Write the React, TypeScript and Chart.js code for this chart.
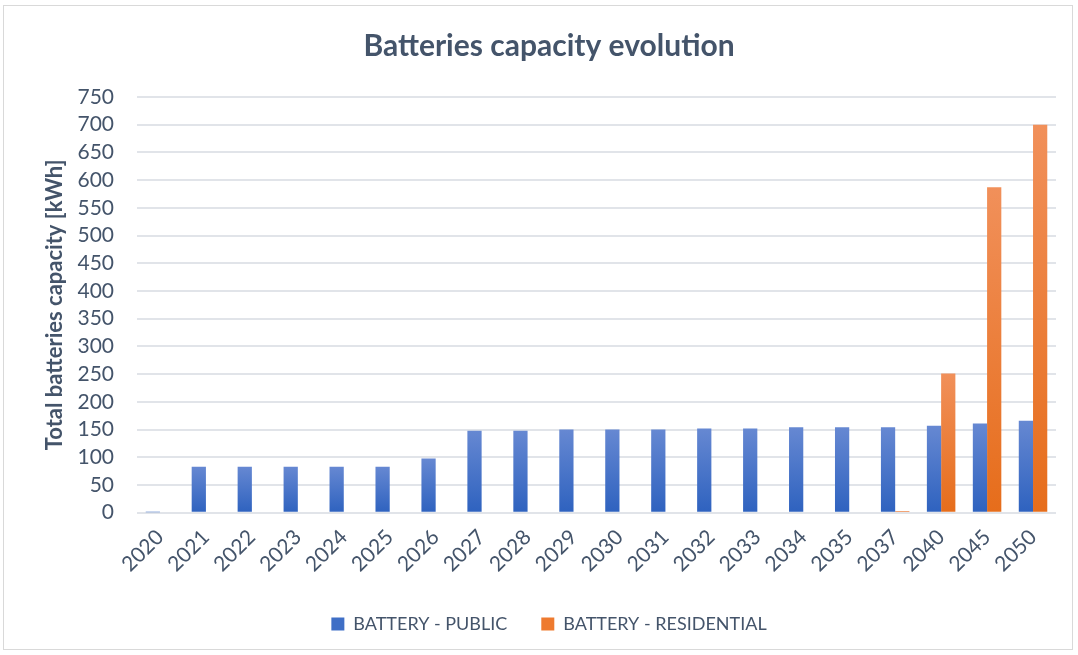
import React, { useEffect, useRef } from "react";
import { Chart, registerables } from "chart.js";

Chart.register(...registerables);

const categories = ["2020","2021","2022","2023","2024","2025","2026","2027","2028","2029","2030","2031","2032","2033","2034","2035","2037","2040","2045","2050"];
const publicValues = [1, 83, 83, 83, 83, 83, 98, 148, 148, 150, 150, 150, 152, 152, 154, 154, 154, 157, 161, 166];
const residentialValues = [0, 0, 0, 0, 0, 0, 0, 0, 0, 0, 0, 0, 0, 0, 0, 0, 3, 251, 587, 700];
const yTicks = [0, 50, 100, 150, 200, 250, 300, 350, 400, 450, 500, 550, 600, 650, 700, 750];

const FONT = "Lato, 'Noto Sans', sans-serif";
const TEXT = "#44546a";

function barGradient(ctx: any, top: string, bottom: string) {
  const chart = ctx.chart;
  const y = chart.scales && chart.scales.y;
  if (!y || ctx.raw == null) return bottom;
  const yTop = y.getPixelForValue(ctx.raw);
  const yBot = y.getPixelForValue(0);
  if (!isFinite(yTop) || !isFinite(yBot) || Math.abs(yBot - yTop) < 1) return bottom;
  const g = chart.ctx.createLinearGradient(0, yTop, 0, yBot);
  g.addColorStop(0, top);
  g.addColorStop(1, bottom);
  return g;
}

export default function App() {
  const ref = useRef<HTMLCanvasElement>(null);
  useEffect(() => {
    if (!ref.current) return;
    const chart = new Chart(ref.current, {
      type: "bar",
      data: {
        labels: categories,
        datasets: [
          {
            label: "BATTERY - PUBLIC",
            data: publicValues,
            backgroundColor: (c: any) => barGradient(c, "#6688d2", "#2e62bf"),
            categoryPercentage: 0.62,
            barPercentage: 1,
          },
          {
            label: "BATTERY - RESIDENTIAL",
            data: residentialValues,
            backgroundColor: (c: any) => barGradient(c, "#f1905a", "#e66d1b"),
            categoryPercentage: 0.62,
            barPercentage: 1,
          },
        ],
      },
      options: {
        animation: false,
        responsive: false,
        maintainAspectRatio: false,
        layout: { padding: { left: 42, right: 22, top: 28, bottom: 12 } },
        plugins: {
          title: {
            display: true,
            text: "Batteries capacity evolution",
            color: TEXT,
            font: { family: FONT, size: 30, weight: "bold" },
            padding: { top: 0, bottom: 33 },
          },
          legend: {
            position: "bottom",
            labels: {
              color: TEXT,
              font: { family: FONT, size: 18 },
              boxWidth: 13,
              boxHeight: 13,
              padding: 34,
              generateLabels: (ch: any) =>
                ch.data.datasets.map((d: any, i: number) => ({
                  text: d.label,
                  fillStyle: i === 0 ? "#3f6fc6" : "#ee7a2f",
                  strokeStyle: "transparent",
                  lineWidth: 0,
                  fontColor: TEXT,
                  datasetIndex: i,
                  hidden: false,
                })),
            },
          },
          tooltip: { enabled: false },
        },
        scales: {
          x: {
            grid: { display: false },
            border: { display: false },
            afterFit: (axis: any) => {
              axis.paddingLeft = 0;
              axis.paddingRight = 0;
            },
            ticks: {
              color: TEXT,
              font: { family: FONT, size: 21 },
              maxRotation: 45,
              minRotation: 45,
              autoSkip: false,
              padding: 4,
            },
          },
          y: {
            min: 0,
            max: 750,
            afterBuildTicks: (axis: any) => {
              axis.ticks = yTicks.map((v) => ({ value: v }));
            },
            afterFit: (axis: any) => {
              axis.width = 95;
            },
            grid: { color: "#e1e4e9", lineWidth: 2, drawTicks: false },
            border: { display: false },
            ticks: {
              color: TEXT,
              font: { family: FONT, size: 21, lineHeight: 1 },
              padding: 23,
              autoSkip: false,
            },
            title: {
              display: true,
              text: "Total batteries capacity [kWh]",
              color: TEXT,
              font: { family: FONT, size: 22, weight: "bold" },
              padding: { top: 0, bottom: 8 },
            },
          },
        },
      },
    } as any);
    return () => chart.destroy();
  }, []);
  return (
    <div style={{ position: "fixed", left: 0, top: 0, width: 1078, height: 655, background: "#fff" }}>
      <div style={{ position: "absolute", left: 3, top: 5, width: 1068, height: 643, border: "1px solid #d9d9d9" }} />
      <canvas ref={ref} width={1078} height={655} style={{ position: "absolute", left: 0, top: 0, width: 1078, height: 655 }} />
    </div>
  );
}
